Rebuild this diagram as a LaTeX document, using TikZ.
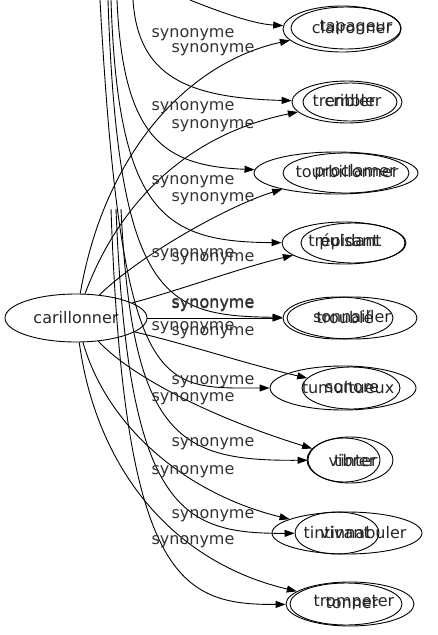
\documentclass[tikz,border=0pt]{standalone}
\usepackage{fontspec}
\setmainfont{DejaVu Sans}
\usetikzlibrary{shapes.geometric,arrows.meta}
\begin{document}
\begin{tikzpicture}[x=1pt,y=-1pt,
  ell/.style={draw, ellipse, inner sep=0pt, line width=0.9pt},
  word/.style={font=\fontsize{16}{16}\selectfont, text=black!85, inner sep=0pt},
  lab/.style={font=\fontsize{16}{16}\selectfont, text=black!80, inner sep=0pt},
  edge/.style={line width=0.9pt, -{Triangle[length=10pt,width=7pt]}}]
\useasboundingbox (0,0) rectangle (437,635);

% central node
\node[ell, word, minimum width=142pt, minimum height=48pt] (car) at (76,318) {carillonner};

% right nodes (pairs)
\node[ell, minimum width=118pt, minimum height=46pt] (r1a) at (342,29) {};
\node[ell, minimum width=110pt, minimum height=42pt] (r1b) at (346,28) {};
\node[word] (w1a) at (352,28) {claironner};
\node[word] (w1b) at (356,28) {tapageur};

\node[ell, minimum width=110pt, minimum height=42pt] (r2a) at (347,102) {};
\node[ell, minimum width=94pt, minimum height=38pt] (r2b) at (350,102) {};
\node[word] (w2a) at (347,101) {trembler};
\node[word] (w2b) at (350,101) {cribler};

\node[ell, minimum width=164pt, minimum height=42pt] (r3a) at (336,173) {};
\node[ell, minimum width=126pt, minimum height=40pt] (r3b) at (346,173) {};
\node[word] (w3a) at (347,172) {tourbillonner};
\node[word] (w3b) at (355,172) {proclamer};

\node[ell, minimum width=124pt, minimum height=42pt] (r4a) at (344,243) {};
\node[ell, minimum width=104pt, minimum height=40pt] (r4b) at (353,243) {};
\node[word] (w4a) at (345,242) {trépidant};
\node[word] (w4b) at (349,242) {pulsant};

\node[ell, minimum width=110pt, minimum height=42pt] (r5a) at (338,318) {};
\node[ell, minimum width=130pt, minimum height=42pt] (r5b) at (352,318) {};
\node[word] (w5a) at (345,317) {troublé};
\node[word] (w5b) at (352,317) {sonnailler};

\node[ell, minimum width=146pt, minimum height=44pt] (r6a) at (343,388) {};
\node[ell, minimum width=98pt, minimum height=42pt] (r6b) at (351,388) {};
\node[word] (w6a) at (348,388) {tumultueux};
\node[word] (w6b) at (352,388) {sonore};

\node[ell, minimum width=86pt, minimum height=46pt] (r7a) at (350,460) {};
\node[ell, minimum width=72pt, minimum height=44pt] (r7b) at (344,460) {};
\node[word] (w7a) at (356,461) {tinter};
\node[word] (w7b) at (352,461) {vibrer};

\node[ell, minimum width=150pt, minimum height=42pt] (r8a) at (347,533) {};
\node[ell, minimum width=84pt, minimum height=42pt] (r8b) at (337,533) {};
\node[word] (w8a) at (355,533) {tintinnabuler};
\node[word] (w8b) at (345,533) {vivant};

\node[ell, minimum width=128pt, minimum height=44pt] (r9a) at (350,604) {};
\node[ell, minimum width=112pt, minimum height=42pt] (r9b) at (346,604) {};
\node[word] (w9a) at (354,603) {trompeter};
\node[word] (w9b) at (352,603) {tonner};

% free ends of edges coming from outside
\coordinate (t1) at (190,0);
\coordinate (t2) at (133,0);
\coordinate (t3) at (117,0);
\coordinate (t4) at (111,0);
\coordinate (t5) at (108,0);
\coordinate (t6) at (100,0);
\coordinate (b1) at (121,209);
\coordinate (b2) at (116,209);
\coordinate (b3) at (111,209);

% edges from carillonner
\draw[edge] (car) .. controls (105,150) and (190,62) .. (r1a);
\draw[edge] (car) .. controls (118,205) and (185,135) .. (r2a);
\draw[edge] (car) .. controls (140,255) and (230,205) .. (r3a);
\draw[edge] (car) .. controls (180,290) and (240,268) .. (r4a);
\draw[edge] (car) -- (r5a);
\draw[edge] (car) .. controls (190,345) and (250,365) .. (r6b);
\draw[edge] (car) .. controls (140,385) and (235,425) .. (r7a);
\draw[edge] (car) .. controls (108,430) and (190,495) .. (r8a);
\draw[edge] (car) .. controls (95,460) and (165,560) .. (r9a);

% edges from outside
\draw[edge] (t1) .. controls (225,14) and (255,24) .. (r1a);
\draw[edge] (t2) .. controls (138,75) and (185,98) .. (r2a);
\draw[edge] (t3) .. controls (123,140) and (165,166) .. (r3a);
\draw[edge] (t4) .. controls (118,215) and (165,242) .. (r4a);
\draw[edge] (t5) .. controls (118,300) and (165,316) .. (r5a);
\draw[edge] (t6) .. controls (122,400) and (160,388) .. (r6a);
\draw[edge] (b1) .. controls (132,440) and (180,461) .. (r7b);
\draw[edge] (b2) .. controls (128,510) and (180,534) .. (r8b);
\draw[edge] (b3) .. controls (124,580) and (180,605) .. (r9a);

% labels
\node[lab] (l1) at (193,35) {synonyme};
\node[lab] (l2) at (213,50) {synonyme};
\node[lab] (l3) at (193,108) {synonyme};
\node[lab] (l4) at (213,126) {synonyme};
\node[lab] (l5) at (193,182) {synonyme};
\node[lab] (l6) at (213,199) {synonyme};
\node[lab] (l7) at (193,255) {synonyme};
\node[lab] (l8) at (213,259) {synonyme};
\node[lab] (l9) at (213,305) {synonyme};
\node[lab] (l10) at (213,306) {synonyme};
\node[lab] (l11) at (193,328) {synonyme};
\node[lab] (l12) at (213,333) {synonyme};
\node[lab] (l13) at (213,382) {synonyme};
\node[lab] (l14) at (193,399) {synonyme};
\node[lab] (l15) at (213,444) {synonyme};
\node[lab] (l16) at (193,472) {synonyme};
\node[lab] (l17) at (213,516) {synonyme};
\node[lab] (l18) at (193,542) {synonyme};
\end{tikzpicture}
\end{document}
